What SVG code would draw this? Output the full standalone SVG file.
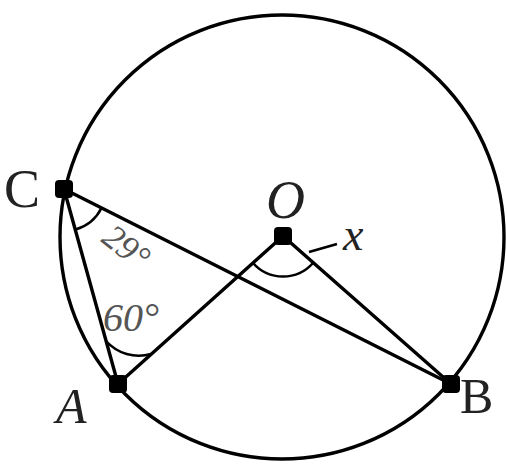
<svg xmlns="http://www.w3.org/2000/svg" width="507" height="467" viewBox="0 0 507 467">
<style>
.ln{stroke:#000;stroke-width:3.4;fill:none;stroke-linecap:round}
.arc{stroke:#000;stroke-width:2.6;fill:none}
.dot{fill:#000}
.lbl{font-family:"Liberation Serif","DejaVu Serif",serif;fill:#222}
.ang{font-family:"Liberation Serif","DejaVu Serif",serif;fill:#555;font-style:italic}
</style>
<rect width="507" height="467" fill="#fff"/>
<g id="circle">
<circle cx="282" cy="237" r="222" class="ln"/>
</g>
<g id="connectors">
<line x1="64" y1="189" x2="118" y2="384" class="ln"/>
<line x1="64" y1="189" x2="451" y2="384" class="ln"/>
<line x1="118" y1="384" x2="283" y2="236" class="ln"/>
<line x1="283" y1="236" x2="451" y2="384" class="ln"/>
<path d="M 75.5,229.5 A 42 42 0 0 0 101.5,208" class="arc"/>
<path d="M 106,341 A 44 44 0 0 0 151,354" class="arc"/>
<path d="M 313,263 A 40 40 0 0 1 253,263" class="arc"/>
<line x1="309" y1="252" x2="337" y2="244" class="arc" stroke-width="2"/>
</g>
<g id="C"><rect x="55" y="180" width="18" height="18" rx="4" class="dot"/><text x="4" y="207" font-size="54" class="lbl">C</text></g>
<g id="O"><rect x="274" y="227" width="18" height="18" rx="4" class="dot"/><text x="266" y="218" font-size="54" font-style="italic" class="lbl">O</text></g>
<g id="A"><rect x="109" y="375" width="18" height="18" rx="4" class="dot"/><text x="56" y="423" font-size="50" font-style="italic" class="lbl">A</text></g>
<g id="B"><rect x="442" y="375" width="18" height="18" rx="4" class="dot"/><text x="460" y="413" font-size="50" class="lbl">B</text></g>
<g id="labels">
<text x="343" y="250" font-size="46" font-style="italic" class="lbl">x</text>
<text transform="translate(100,241) rotate(38)" font-size="35" class="ang">29°</text>
<text x="103" y="331" font-size="40" class="ang">60°</text>
</g>
</svg>
